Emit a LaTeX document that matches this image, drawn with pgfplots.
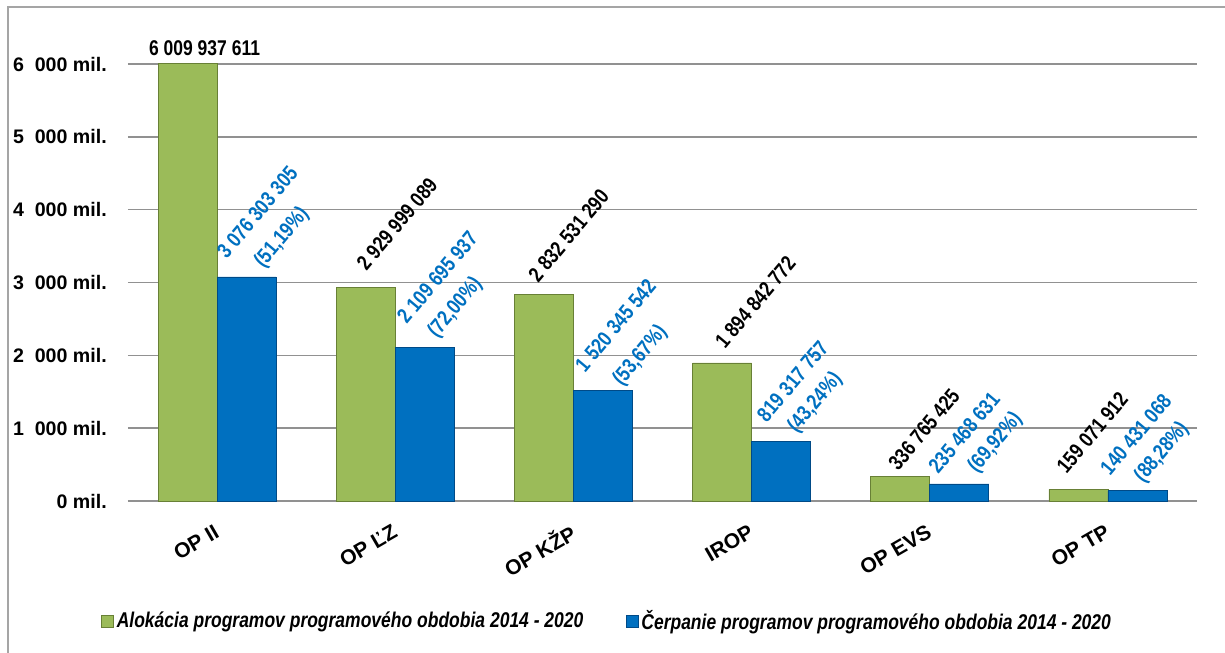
\documentclass[border=0pt]{standalone}
\usepackage{pgfplots}
\pgfplotsset{compat=1.18}
\usepackage{fontspec}
\setmainfont{Liberation Sans}
\newfontfamily\narrow{Liberation Sans}[FakeStretch=0.82]
\definecolor{grn}{RGB}{155,187,89}
\definecolor{grnR}{RGB}{104,128,54}
\definecolor{blu}{RGB}{0,112,192}
\definecolor{bluR}{RGB}{0,74,135}
\definecolor{lblue}{RGB}{0,112,192}
\definecolor{gridc}{RGB}{145,145,145}
\definecolor{framec}{RGB}{165,165,165}

\tikzset{lbl/.style={anchor=base west, rotate=50, inner sep=0pt, font=\narrow\bfseries\fontsize{16}{18}\selectfont}}

\begin{document}
\begin{tikzpicture}
\path[use as bounding box] (0,0) rectangle (918.75pt,-489.75pt);
\begin{scope}[x=0.75pt,y=-0.75pt]
\draw[framec, line width=1.2pt] (8,653) -- (8,7) -- (1225,7);
\end{scope}
\begin{axis}[
  at={(96pt,-375.75pt)}, anchor=south west,
  scale only axis, width=801.75pt, height=327.75pt,
  xmin=-0.5, xmax=5.5, ymin=0, ymax=6000,
  clip=false,
  axis x line*=bottom, axis y line*=left,
  x axis line style={gridc, line width=1.1pt},
  y axis line style={draw=none},
  major tick length=0pt,
  ymajorgrids, grid style={gridc, line width=1.1pt},
  ytick={0,1000,2000,3000,4000,5000,6000},
  yticklabels={0 mil.,{1\ \ 000 mil.},{2\ \ 000 mil.},{3\ \ 000 mil.},{4\ \ 000 mil.},{5\ \ 000 mil.},{6\ \ 000 mil.}},
  yticklabel style={font=\bfseries\fontsize{14.7}{17}\selectfont, anchor=east, inner sep=0pt, xshift=-15.75pt},
  xtick={0,1,2,3,4,5},
  xticklabels={OP II, OP ĽZ, OP KŽP, IROP, OP EVS, OP TP},
  xticklabel style={font=\bfseries\fontsize{15.75}{18}\selectfont, rotate=30, anchor=east, inner sep=0pt},
  xticklabel shift=21.75pt,
  legend style={at={(axis description cs:0.4486,-0.2746)}, anchor=center, draw=none, fill=none,
    font=\narrow\bfseries\itshape\fontsize{16}{19}\selectfont,
    /tikz/every even column/.append style={column sep=30pt}},
  legend columns=2,
  legend image code/.code={\path[#1] (0pt,-4.5pt) rectangle (9pt,4.5pt);},
]
\addplot[ybar, bar width=44.25pt, bar shift=-22.125pt, draw=grnR, line width=0.5pt, fill=grn]
  coordinates {(0,6009.937611) (1,2929.999089) (2,2832.531290) (3,1894.842772) (4,336.765425) (5,159.071912)};
\addlegendentry{Alokácia programov programového obdobia 2014 - 2020}
\addplot[ybar, bar width=44.25pt, bar shift=22.125pt, draw=bluR, line width=0.5pt, fill=blu]
  coordinates {(0,3076.303305) (1,2109.695937) (2,1520.345542) (3,819.317757) (4,235.468631) (5,140.431068)};
\addlegendentry{Čerpanie programov programového obdobia 2014 - 2020}

% labels of allocation (black)
\path (axis cs:-0.1656,6009.937611) ++(12.75pt,6pt) node[anchor=base, inner sep=0pt, font=\narrow\bfseries\fontsize{16}{18}\selectfont] {6 009 937 611};
\path (axis cs:0.8344,2929.999089) ++(0.6pt,11.9pt) node[lbl] {2 929 999 089};
\path (axis cs:1.8344,2832.531290) ++(-4.35pt,8.55pt) node[lbl] {2 832 531 290};
\path (axis cs:2.8344,1894.842772) ++(2.1pt,9.75pt) node[lbl] {1 894 842 772};
\path (axis cs:3.8344,336.765425) ++(-1.6pt,3.6pt) node[lbl] {336 765 425};
\path (axis cs:4.8344,159.071912) ++(-8.9pt,10.8pt) node[lbl] {159 071 912};

% labels of drawing (blue)
\path (axis cs:0.1656,3076.303305) ++(-14.85pt,12.75pt) node[lbl, text=lblue] {3 076 303 305};
\path (axis cs:0.1656,3076.303305) ++(12.5pt,6.15pt) node[lbl, text=lblue] {(51,19\%)};
\path (axis cs:1.1656,2109.695937) ++(-13.5pt,16.7pt) node[lbl, text=lblue] {2 109 695 937};
\path (axis cs:1.1656,2109.695937) ++(8.9pt,6.35pt) node[lbl, text=lblue] {(72,00\%)};
\path (axis cs:2.1656,1520.345542) ++(-13.4pt,12.75pt) node[lbl, text=lblue] {1 520 345 542};
\path (axis cs:2.1656,1520.345542) ++(14.0pt,2.45pt) node[lbl, text=lblue] {(53,67\%)};
\path (axis cs:3.1656,819.317757) ++(-10.7pt,13.5pt) node[lbl, text=lblue] {819 317 757};
\path (axis cs:3.1656,819.317757) ++(11.6pt,5.65pt) node[lbl, text=lblue] {(43,24\%)};
\path (axis cs:4.1656,235.468631) ++(-15.7pt,6.6pt) node[lbl, text=lblue] {235 468 631};
\path (axis cs:4.1656,235.468631) ++(13.0pt,7.55pt) node[lbl, text=lblue] {(69,92\%)};
\path (axis cs:5.1656,140.431068) ++(-20.55pt,10.6pt) node[lbl, text=lblue] {140 431 068};
\path (axis cs:5.1656,140.431068) ++(4.3pt,5.35pt) node[lbl, text=lblue] {(88,28\%)};
\end{axis}
\end{tikzpicture}
\end{document}
